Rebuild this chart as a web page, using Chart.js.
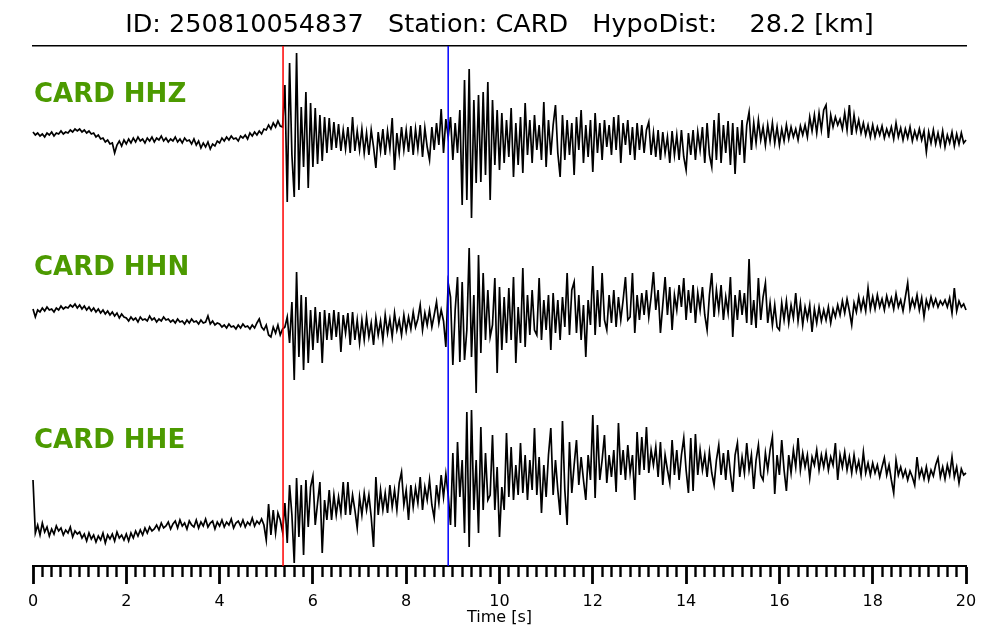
<!DOCTYPE html>
<html><head><meta charset="utf-8">
<script src="https://cdn.jsdelivr.net/npm/chart.js@4.4.1/dist/chart.umd.min.js"></script>
<style>html,body{margin:0;padding:0;background:#fff;}canvas{display:block;}</style>
</head><body>
<canvas id="c" width="1000" height="640"></canvas>
<script>
// ---------- data ----------
const chartTitle = 'ID: 250810054837   Station: CARD   HypoDist:    28.2 [km]';
const channels = ['CARD HHZ', 'CARD HHN', 'CARD HHE'];
const xLabel = 'Time [s]';
const sampleInterval = 0.05; // seconds between samples
const majorTicks = [0, 2, 4, 6, 8, 10, 12, 14, 16, 18, 20];
const minorStep = 0.2;
const pPick = 5.36;   // red marker (s)
const sPick = 8.90;   // blue marker (s)

// amplitudes (arbitrary units, up = positive), one row per second
const hhz = [
 3,0,2,-1,1,-2,2,0,3,-1,2,1,4,1,3,2,5,3,6,4,
 6,3,5,2,4,1,2,-2,0,-4,-3,-7,-5,-9,-8,-18,-10,-6,-11,-5,
 -9,-4,-8,-3,-7,-2,-6,-4,-8,-3,-6,-2,-7,-3,-5,-1,-6,-3,-7,-4,
 -6,-2,-7,-4,-8,-3,-6,-5,-9,-4,-10,-6,-13,-8,-12,-7,-14,-9,-11,-6,
 -8,-3,-6,-2,-5,-1,-4,-3,-6,-1,-3,0,-4,2,-1,3,0,4,1,6,
 5,10,6,12,8,14,9,8,50,-67,72,-20,-62,82,-55,28,-32,43,-53,32,
 -32,27,-29,20,-26,18,-18,17,-15,13,-13,11,-16,5,-14,8,-18,18,-16,4,
 -15,6,-18,2,-20,5,-12,-33,3,-16,6,-20,4,-14,17,-35,2,-18,8,-15,
 5,-17,9,-20,6,-14,10,-22,7,-12,-25,8,-15,12,-10,26,-18,16,-2,18,
 -25,12,-18,25,-70,55,-65,66,-83,35,-48,40,-47,43,-40,53,-65,35,-30,25,
 -35,22,-28,15,-22,27,-42,12,-30,18,-38,32,-20,15,-28,20,-15,10,-25,33,
 -32,15,-20,10,30,-18,-42,20,-25,15,-20,12,-40,18,-15,25,-28,10,-22,15,
 -37,22,-18,12,-25,15,-12,10,-20,18,-15,20,-28,12,-10,15,-20,8,-25,12,
 -15,10,-18,5,13,-20,2,-22,5,-25,3,-18,-2,-28,4,-20,0,-25,5,-22,
 -35,2,-20,5,-25,3,-15,8,-28,12,-20,-32,15,-25,22,-28,10,-18,14,-30,
 12,-39,8,-20,15,-28,10,23,-15,12,-8,15,-5,8,-10,10,-6,12,-8,8,
 -10,6,-6,10,-4,8,-2,6,-5,9,0,10,-2,18,4,20,2,22,5,25,
 30,-3,20,8,18,10,16,6,22,5,30,0,20,4,15,2,12,0,10,-2,
 10,-2,8,0,9,-3,6,-1,8,-4,12,-2,7,-5,6,-3,8,-6,4,-4,
 6,-5,4,-17,3,-8,5,-9,2,-10,4,-12,0,-8,3,-11,1,-9,2,-8,-5
];
const hhn = [
 6,-2,5,3,7,4,8,5,6,3,7,5,9,6,8,7,10,8,11,7,
 10,6,9,5,8,4,7,3,6,2,5,1,4,0,3,-1,2,-3,1,-2,
 -3,-6,-2,-5,-3,-7,-2,-5,-4,-6,-1,-5,-3,-7,-4,-6,-2,-5,-4,-7,
 -5,-8,-4,-7,-6,-9,-5,-8,-4,-7,-6,-9,-5,-8,-7,-1,-9,-6,-10,-8,
 -9,-12,-10,-13,-9,-12,-11,-14,-10,-13,-9,-12,-11,-14,-10,-13,-8,-4,-12,-15,
 -10,-20,-22,-12,-18,-10,-20,-14,-12,-2,-28,13,-65,43,-42,20,-55,18,-48,5,
 -35,8,-28,3,-48,5,-25,2,-25,5,-22,3,-37,0,-18,2,-30,3,-25,-5,
 -28,-5,-25,-2,-22,-8,-30,-3,-20,-6,-25,0,-18,-4,-22,2,-15,-5,-20,0,
 -16,-2,-14,3,-12,-4,10,-15,2,-10,5,-12,0,13,-8,5,-6,-32,32,18,
 -50,5,38,-47,33,-45,-15,67,-42,20,-78,60,-38,42,-25,25,-22,-10,37,-58,
 28,-35,18,-28,27,-25,38,-48,8,-28,47,-32,20,-20,25,-15,-20,37,-25,15,
 -15,20,-35,22,-18,15,-25,18,-12,42,-20,25,33,-18,20,-25,10,-42,15,-10,
 49,-20,25,-12,42,-5,-15,20,-8,25,-12,18,-5,15,38,-5,-2,42,-18,20,
 -5,22,0,25,-2,18,43,5,25,-18,10,38,0,28,-15,20,5,30,8,37,
 -5,25,2,30,-8,22,5,28,0,-15,20,42,-2,25,5,30,-5,18,2,38,
 -22,20,-5,25,0,22,-8,56,-10,15,-13,37,-5,18,32,-8,12,-10,10,-12,
 -15,12,-5,14,-8,10,-3,22,-6,12,-10,8,-4,10,-17,6,-8,8,-6,5,
 -5,8,-8,6,-2,10,0,14,2,16,4,-10,12,3,18,5,16,4,27,6,
 18,6,20,8,16,5,19,9,17,6,21,8,15,4,18,32,6,16,8,20,
 5,17,-2,15,7,18,9,16,8,14,10,15,8,17,2,27,4,14,8,11,5
];
const hhe = [
 5,-48,-40,-50,-38,-47,-42,-51,-44,-49,-41,-46,-43,-50,-45,-48,-42,-52,-46,-49,
 -47,-53,-49,-56,-48,-54,-50,-57,-51,-55,-48,-58,-50,-54,-49,-56,-47,-53,-50,-55,
 -49,-56,-48,-53,-46,-51,-45,-50,-43,-48,-42,-46,-44,-40,-45,-38,-43,-41,-37,-44,
 -39,-36,-43,-35,-41,-38,-44,-36,-40,-42,-35,-43,-37,-41,-34,-42,-38,-36,-44,-37,
 -41,-35,-42,-37,-40,-34,-43,-38,-36,-41,-35,-42,-37,-40,-33,-41,-36,-39,-34,-40,
 -55,-19,-50,-25,-48,-28,-35,-47,-18,-58,0,-30,-78,7,-52,0,-70,5,-42,-2,
 9,-40,-18,3,-68,-15,-35,-5,-35,-10,-30,-12,-28,3,-30,3,-30,-10,-25,-43,
 -12,-30,-8,-25,-10,-32,-62,8,-30,-5,-25,-8,-28,0,-22,-5,-25,2,13,-20,
 -5,-35,0,-22,-3,-18,8,-25,-2,-15,5,-20,-33,0,-18,10,-12,11,-10,-40,
 32,-42,43,-12,25,-48,73,-62,75,-25,25,-48,58,-25,32,-15,-10,50,-25,18,
 -52,-2,-25,52,-12,38,-15,20,-10,42,-8,30,-15,25,-5,57,-10,28,-28,20,
 -12,30,57,-10,25,-5,-30,64,-5,-40,43,-8,20,45,0,28,5,-15,30,5,
 70,-13,60,5,25,50,2,30,8,35,-7,62,10,35,5,40,12,30,-15,53,
 10,48,15,58,12,35,20,38,8,43,0,30,15,2,45,10,35,5,30,47,
 15,-8,47,-6,51,10,35,15,30,8,33,12,0,25,40,10,32,5,35,12,
 -7,30,42,8,28,12,42,15,30,-4,25,40,10,5,32,15,35,48,-9,30,
 10,45,15,-6,30,12,35,18,47,15,32,18,30,7,28,20,35,15,30,18,
 32,15,28,20,42,5,30,18,33,15,28,12,30,14,24,10,33,12,22,10,
 22,12,20,8,18,27,10,20,5,-8,25,10,18,8,15,5,14,8,0,28,
 8,16,6,18,5,15,9,20,27,8,18,6,20,10,28,8,18,2,16,10,12
];

// ---------- layout (vertical placement of each trace / label on a 0..520 value axis) ----------
const traces = [hhz, hhn, hhe];
const traceBase = [431, 251, 81];
const labelBase = [464, 291, 118];
const yMax = 520;

const isMajor = v => majorTicks.some(m => Math.abs(m - v) < 1e-6);

const datasets = [
  { data: [{x: sPick, y: 0}, {x: sPick, y: yMax}], borderColor: '#0000ff', borderWidth: 1.5 },
  { data: [{x: pPick, y: 0}, {x: pPick, y: yMax}], borderColor: '#ff0000', borderWidth: 1.5 }
].concat(traces.map((arr, k) => ({
  data: arr.map((v, i) => ({x: i * sampleInterval, y: v + traceBase[k]})),
  borderColor: '#000000', borderWidth: 1.7
})));
datasets.forEach(d => { d.pointRadius = 0; d.tension = 0; d.fill = false; d.clip = false; });

const labelPlugin = {
  id: 'chanLabels',
  afterDatasetsDraw(chart) {
    const {ctx, scales} = chart;
    ctx.save();
    ctx.font = 'bold 26px "DejaVu Sans"';
    ctx.fillStyle = '#4c9a00';
    ctx.textAlign = 'left';
    ctx.textBaseline = 'alphabetic';
    channels.forEach((t, k) => ctx.fillText(t, scales.x.getPixelForValue(0) + 1, scales.y.getPixelForValue(labelBase[k])));
    ctx.restore();
  }
};

new Chart(document.getElementById('c'), {
  type: 'line',
  data: { datasets },
  plugins: [labelPlugin],
  options: {
    responsive: false,
    devicePixelRatio: 1,
    animation: false,
    events: [],
    layout: { padding: { left: 33, right: 34, top: 0, bottom: 12.4 } },
    plugins: {
      legend: { display: false },
      tooltip: { enabled: false },
      title: {
        display: true, text: chartTitle, color: '#000',
        font: { family: 'DejaVu Sans', size: 25.5, weight: 'normal' },
        padding: { top: 10.5, bottom: 4.9 }
      }
    },
    scales: {
      x: {
        type: 'linear', position: 'bottom', min: 0, max: 20,
        grid: {
          drawOnChartArea: false, drawTicks: true, tickLength: 18, tickColor: '#000',
          tickWidth: c => (c.tick && isMajor(c.tick.value)) ? 2.8 : 2.4,
          tickBorderDash: c => (c.tick && isMajor(c.tick.value)) ? [] : [10, 40]
        },
        border: { display: true, color: '#000', width: 2 },
        ticks: {
          stepSize: minorStep, autoSkip: false, maxRotation: 0, minRotation: 0, padding: 8,
          color: '#000', font: { family: 'DejaVu Sans', size: 16 },
          callback: v => isMajor(v) ? String(Math.round(v)) : ''
        },
        title: {
          display: true, text: xLabel, color: '#000',
          font: { family: 'DejaVu Sans', size: 16 },
          padding: { top: -10.8, bottom: 0 }
        }
      },
      xt: {
        type: 'linear', position: 'top', min: 0, max: 20,
        grid: { drawOnChartArea: false, drawTicks: false },
        border: { display: true, color: '#000', width: 1.5 },
        ticks: { display: false }
      },
      y: { type: 'linear', display: false, min: 0, max: yMax }
    }
  }
});
</script>
</body></html>
